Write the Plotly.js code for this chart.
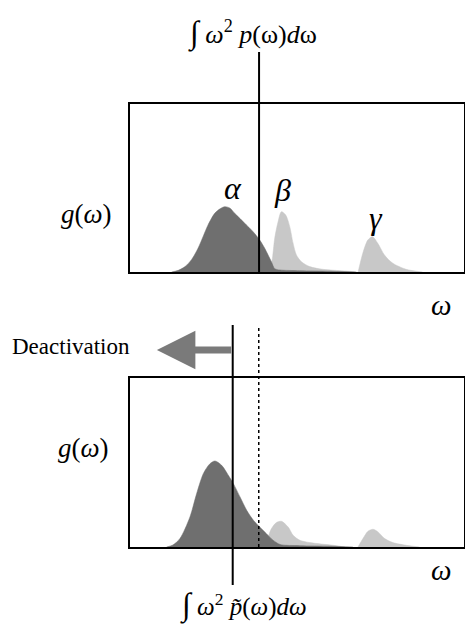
<!DOCTYPE html>
<html>
<head>
<meta charset="utf-8">
<script src="https://cdn.plot.ly/plotly-3.0.1.min.js"></script>
<style>html,body{margin:0;padding:0;background:#fff;}#chart{width:465px;height:627px;}</style>
</head>
<body>
<div id="chart"></div>
<script>
// ---- data (omega in arbitrary units, g(omega) relative to box height) ----
// top panel: original distribution
const topAlphaX = [1.25, 1.45, 1.65, 1.85, 2.04, 2.20, 2.34, 2.54, 2.70, 2.84, 3.00, 3.14, 3.30, 3.44, 3.69, 3.89, 4.04, 4.24, 4.34, 4.50, 5.09, 5.99, 6.79];
const topAlphaY = [0.000, 0.010, 0.032, 0.075, 0.141, 0.215, 0.280, 0.349, 0.376, 0.389, 0.380, 0.349, 0.318, 0.290, 0.240, 0.190, 0.141, 0.061, 0.020, 0.012, 0.008, 0.005, 0.000];
const topBetaX = [4.13, 4.25, 4.34, 4.44, 4.54, 4.67, 4.79, 4.89, 4.99, 5.14, 5.39, 5.78, 6.59, 6.77];
const topBetaY = [0.000, 0.060, 0.202, 0.299, 0.359, 0.339, 0.270, 0.171, 0.101, 0.061, 0.032, 0.016, 0.004, 0.000];
const topGammaX = [6.84, 6.98, 7.13, 7.27, 7.43, 7.63, 7.88, 8.28, 8.77];
const topGammaY = [0.000, 0.111, 0.190, 0.210, 0.171, 0.101, 0.052, 0.016, 0.000];
// bottom panel: after deactivation
const botAlphaX = [1.11, 1.30, 1.51, 1.81, 2.01, 2.21, 2.41, 2.56, 2.76, 2.96, 3.11, 3.31, 3.51, 3.71, 3.90, 4.10, 4.30, 4.51, 5.10, 6.00, 6.69];
const botAlphaY = [0.000, 0.012, 0.050, 0.178, 0.316, 0.434, 0.493, 0.509, 0.483, 0.424, 0.375, 0.296, 0.217, 0.158, 0.118, 0.079, 0.040, 0.015, 0.008, 0.005, 0.000];
const botBetaX = [4.04, 4.10, 4.25, 4.40, 4.55, 4.75, 4.90, 5.10, 5.40, 6.10, 6.45];
const botBetaY = [0.000, 0.030, 0.109, 0.145, 0.152, 0.118, 0.069, 0.040, 0.026, 0.010, 0.000];
const botGammaX = [6.84, 6.99, 7.14, 7.29, 7.44, 7.64, 7.89, 8.29, 8.68];
const botGammaY = [0.000, 0.050, 0.093, 0.105, 0.089, 0.050, 0.026, 0.010, 0.000];
// second-moment positions
const momentOriginal = 3.87;   // ∫ω² p(ω)dω
const momentDeactivated = 3.09; // ∫ω² p̃(ω)dω
const peakLabels = ['α', 'β', 'γ'];
const xRange = [0, 10];

const dark = '#6f6f6f', light = '#c8c8c8';
const serif = 'Liberation Serif, Times New Roman, serif';

function area(x, y, color, xa, ya) {
  return {x: x, y: y, type: 'scatter', mode: 'lines', fill: 'tozeroy',
    fillcolor: color, line: {color: color, width: 0.5, shape: 'spline', smoothing: 0.8},
    xaxis: xa, yaxis: ya, hoverinfo: 'skip'};
}
const traces = [
  area(topBetaX, topBetaY, light, 'x', 'y'),
  area(topGammaX, topGammaY, light, 'x', 'y'),
  area(topAlphaX, topAlphaY, dark, 'x', 'y'),
  area(botBetaX, botBetaY, light, 'x2', 'y2'),
  area(botGammaX, botGammaY, light, 'x2', 'y2'),
  area(botAlphaX, botAlphaY, dark, 'x2', 'y2')
];

const W = 465, H = 627;
const px = v => v / W, py = v => 1 - v / H;
const axBase = {showgrid: false, zeroline: false, showticklabels: false, ticks: '',
  showline: true, mirror: true, linecolor: '#000', linewidth: 2, fixedrange: true};

function label(x, y, text, size, ya) {
  return {xref: 'paper', yref: 'paper', x: px(x), y: py(y), xanchor: 'center', yanchor: ya || 'middle',
    showarrow: false, text: text, font: {family: serif, size: size, color: '#000'}};
}
const integ = '<span style="font-size:32px">∫</span> ';

const layout = {
  width: W, height: H, margin: {l: 0, r: 0, t: 0, b: 0},
  paper_bgcolor: '#fff', plot_bgcolor: '#fff', showlegend: false,
  xaxis: Object.assign({}, axBase, {domain: [px(130), px(463.5)], range: xRange, anchor: 'y'}),
  yaxis: Object.assign({}, axBase, {domain: [py(272), py(104)], range: [0, 1], anchor: 'x'}),
  xaxis2: Object.assign({}, axBase, {domain: [px(129.5), px(463.5)], range: xRange, anchor: 'y2'}),
  yaxis2: Object.assign({}, axBase, {domain: [py(547), py(378)], range: [0, 1], anchor: 'x2'}),
  shapes: [
    {type: 'line', xref: 'x', yref: 'paper', x0: momentOriginal, x1: momentOriginal, y0: py(272), y1: py(52), line: {color: '#000', width: 2}},
    {type: 'line', xref: 'x2', yref: 'paper', x0: momentDeactivated, x1: momentDeactivated, y0: py(585), y1: py(325), line: {color: '#000', width: 2}},
    {type: 'line', xref: 'x2', yref: 'paper', x0: momentOriginal, x1: momentOriginal, y0: py(547), y1: py(328), line: {color: '#000', width: 1.5, dash: 'dot'}}
  ],
  annotations: [
    label(252, 33, integ + '<i>ω</i><sup>2</sup> <i>p</i>(ω)<i>d</i>ω', 26),
    label(86, 214, '<i>g</i>(<i>ω</i>)', 27),
    label(83, 448, '<i>g</i>(<i>ω</i>)', 27),
    label(441, 305, '<i>ω</i>', 29),
    label(441, 570, '<i>ω</i>', 29),
    {xref: 'x', yref: 'y', x: 3.08, y: 0.50, xanchor: 'center', yanchor: 'middle', showarrow: false,
      text: '<i>' + peakLabels[0] + '</i>', font: {family: serif, size: 32, color: '#000'}},
    {xref: 'x', yref: 'y', x: 4.58, y: 0.49, xanchor: 'center', yanchor: 'middle', showarrow: false,
      text: '<i>' + peakLabels[1] + '</i>', font: {family: serif, size: 32, color: '#000'}},
    {xref: 'x', yref: 'y', x: 7.37, y: 0.32, xanchor: 'center', yanchor: 'middle', showarrow: false,
      text: '<i>' + peakLabels[2] + '</i>', font: {family: serif, size: 32, color: '#000'}},
    label(71, 346, 'Deactivation', 23),
    {xref: 'x2', yref: 'paper', x: 0.82, y: py(350), axref: 'x2', ax: momentDeactivated, ay: 0,
      showarrow: true, arrowhead: 2, arrowsize: 1.1, arrowwidth: 7, arrowcolor: '#7a7a7a', text: '', standoff: 0},
    label(243, 626, integ + '<i>ω</i><sup>2</sup> <i>p̃</i>(<i>ω</i>)<i>d</i><i>ω</i>', 25, 'bottom')
  ]
};

Plotly.newPlot('chart', traces, layout, {staticPlot: true, displayModeBar: false});
</script>
</body>
</html>
